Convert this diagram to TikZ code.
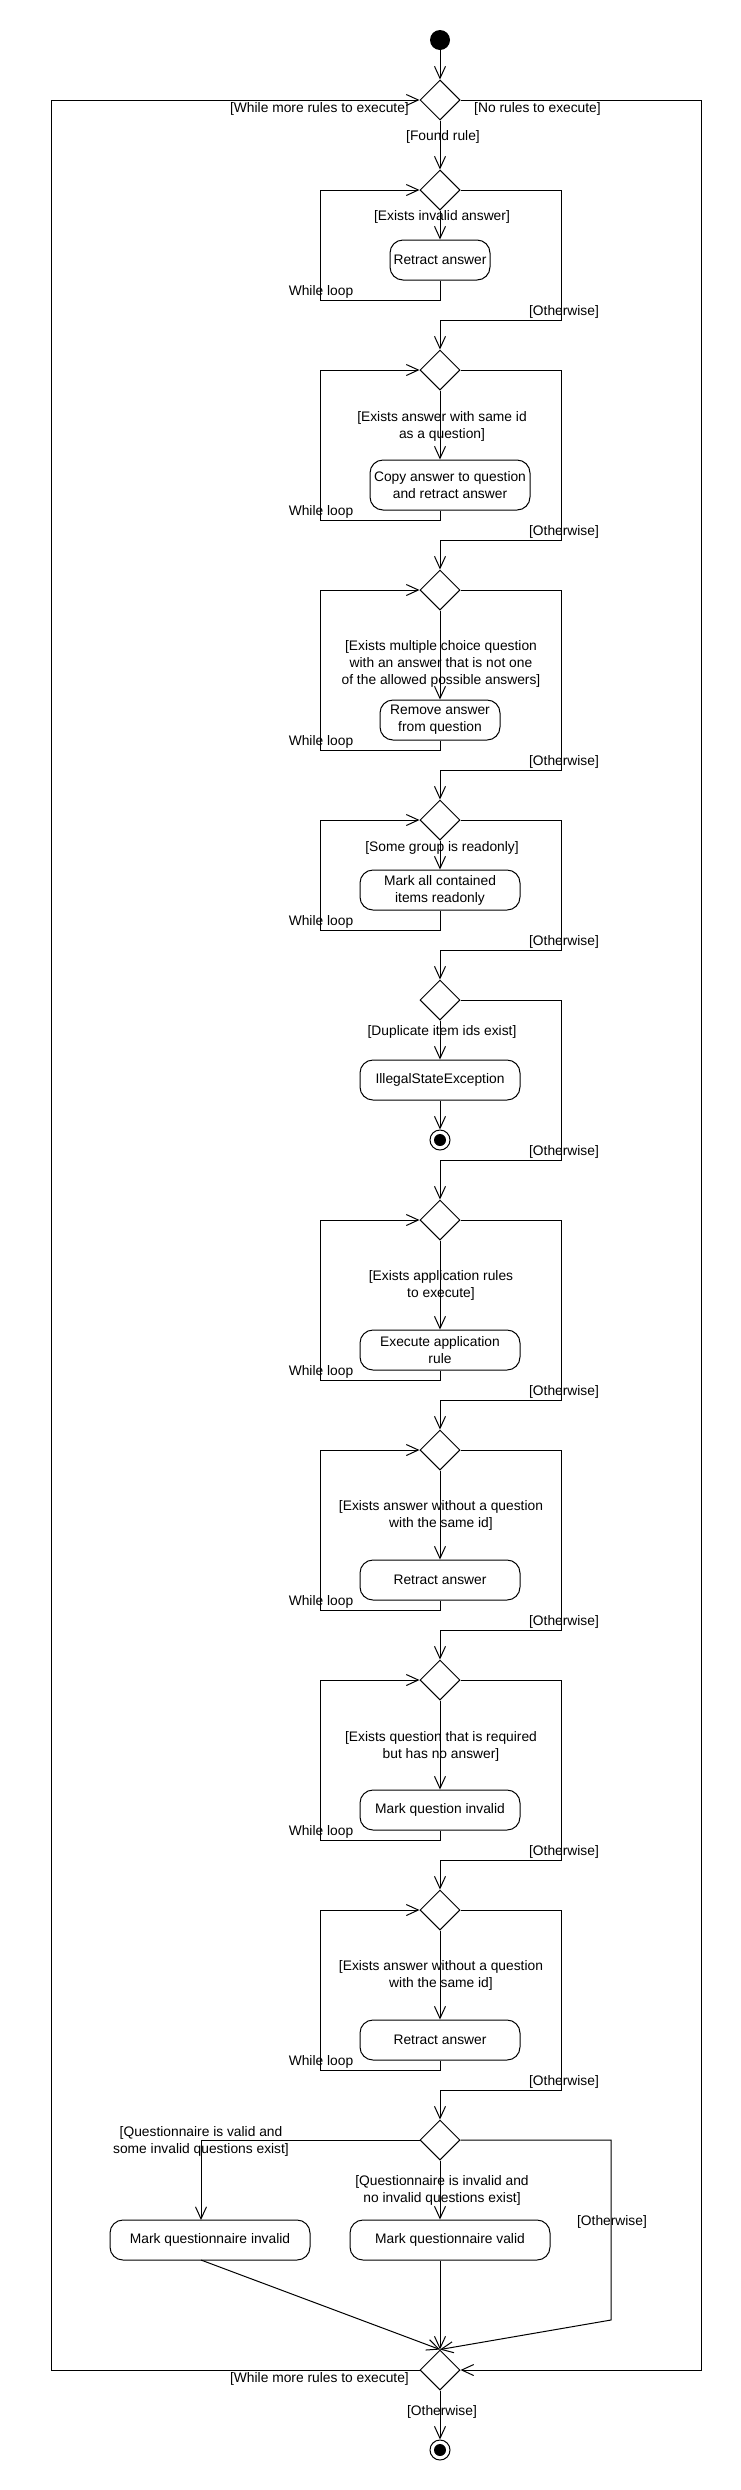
\documentclass[tikz,border=0pt]{standalone}
\usepackage{fontspec}
\setmainfont{Liberation Sans}
\usetikzlibrary{shapes.geometric,arrows.meta}
\begin{document}
\begin{tikzpicture}[x=1pt,y=-1pt,
  every node/.style={font=\fontsize{13.8}{17}\selectfont},
  dec/.style={draw,diamond,minimum width=40pt,minimum height=40pt,inner sep=0pt,line width=1pt},
  act/.style={draw,rounded corners=13pt,minimum height=40pt,inner sep=0pt,align=center,line width=1pt},
  lbl/.style={align=center,inner sep=0pt},
  flow/.style={line width=1pt,-{Straight Barb[length=12pt,width=11pt]}},
  plainline/.style={line width=1pt},
  startnode/.style={circle,fill=black,minimum size=20pt,inner sep=0pt},
  endnode/.style={circle,draw,line width=1pt,minimum size=20pt,inner sep=0pt,
    path picture={\fill[black] (path picture bounding box.center) circle (6pt);}},
]
\path[fill=white] (0,0) rectangle (740,2490);

% start and outer decision
\node[startnode] (start) at (440,40) {};
\node[dec] (d0) at (440,100) {};
\draw[flow] (start) -- (d0);
\node[lbl,anchor=east] (lw0) at (409,109) {[While more rules to execute]};
\node[lbl,anchor=west] (lnr) at (474,109) {[No rules to execute]};
\node[lbl] (lfr) at (443,137) {[Found rule]};

% section 1
\node[dec] (d1) at (440,190) {};
\draw[flow] (d0) -- (d1);
\node[lbl] (l1) at (442,217) {[Exists invalid answer]};
\node[act,minimum width=100pt] (a1) at (440,260) {Retract answer};
\draw[flow] (d1) -- (a1);
\coordinate (lb1) at (320,300);
\draw[flow] (a1.south) |- (lb1) |- (d1.west);
\node[lbl] (wl1) at (321,292) {While loop};
\coordinate (rb1) at (561,320);
\node[lbl] (o1) at (564,312) {[Otherwise]};
\node[dec] (d2) at (440,370) {};
\draw[flow] (d1.east) -| (rb1) -| (d2.north);

% section 2
\node[lbl] (l2) at (442,426) {[Exists answer with same id\\as a question]};
\node[act,minimum width=160pt,minimum height=50pt] (a2) at (450,485) {Copy answer to question\\and retract answer};
\draw[flow] (d2.south) -- (d2.south |- a2.north);
\coordinate (lb2) at (320,520);
\draw[flow] (d2.south |- a2.south) |- (lb2) |- (d2.west);
\node[lbl] (wl2) at (321,512) {While loop};
\coordinate (rb2) at (561,540);
\node[lbl] (o2) at (564,532) {[Otherwise]};
\node[dec] (d3) at (440,590) {};
\draw[flow] (d2.east) -| (rb2) -| (d3.north);

% section 3
\node[lbl] (l3) at (441,664.3) {[Exists multiple choice question\\with an answer that is not one\\of the allowed possible answers]};
\node[act,minimum width=120pt] (a3) at (440,720) {Remove answer\\from question};
\draw[flow] (d3) -- (a3);
\coordinate (lb3) at (320,750);
\draw[flow] (a3.south) |- (lb3) |- (d3.west);
\node[lbl] (wl3) at (321,742) {While loop};
\coordinate (rb3) at (561,770);
\node[lbl] (o3) at (564,762) {[Otherwise]};
\node[dec] (d4) at (440,820) {};
\draw[flow] (d3.east) -| (rb3) -| (d4.north);

% section 4
\node[lbl] (l4) at (442,847.7) {[Some group is readonly]};
\node[act,minimum width=160pt] (a4) at (440,890) {Mark all contained\\items readonly};
\draw[flow] (d4) -- (a4);
\coordinate (lb4) at (320,930);
\draw[flow] (a4.south) |- (lb4) |- (d4.west);
\node[lbl] (wl4) at (321,922) {While loop};
\coordinate (rb4) at (561,950);
\node[lbl] (o4) at (564,942) {[Otherwise]};
\node[dec] (d5) at (440,1000) {};
\draw[flow] (d4.east) -| (rb4) -| (d5.north);

% section 5
\node[lbl] (l5) at (442,1032.3) {[Duplicate item ids exist]};
\node[act,minimum width=160pt] (a5) at (440,1080) {IllegalStateException};
\draw[flow] (d5) -- (a5);
\node[endnode] (f1) at (440,1140) {};
\draw[flow] (a5) -- (f1);
\coordinate (rb5) at (561,1160);
\node[lbl] (o5) at (564,1152) {[Otherwise]};
\node[dec] (d6) at (440,1220) {};
\draw[flow] (d5.east) -| (rb5) -| (d6.north);

% section 6
\node[lbl] (l6) at (441,1285.8) {[Exists application rules\\to execute]};
\node[act,minimum width=160pt] (a6) at (440,1350) {Execute application\\rule};
\draw[flow] (d6) -- (a6);
\coordinate (lb6) at (320,1380);
\draw[flow] (a6.south) |- (lb6) |- (d6.west);
\node[lbl] (wl6) at (321,1372) {While loop};
\coordinate (rb6) at (561,1400);
\node[lbl] (o6) at (564,1392) {[Otherwise]};
\node[dec] (d7) at (440,1450) {};
\draw[flow] (d6.east) -| (rb6) -| (d7.north);

% section 7
\node[lbl] (l7) at (441,1515.8) {[Exists answer without a question\\with the same id]};
\node[act,minimum width=160pt] (a7) at (440,1580) {Retract answer};
\draw[flow] (d7) -- (a7);
\coordinate (lb7) at (320,1610);
\draw[flow] (a7.south) |- (lb7) |- (d7.west);
\node[lbl] (wl7) at (321,1602) {While loop};
\coordinate (rb7) at (561,1630);
\node[lbl] (o7) at (564,1622) {[Otherwise]};
\node[dec] (d8) at (440,1680) {};
\draw[flow] (d7.east) -| (rb7) -| (d8.north);

% section 8
\node[lbl] (l8) at (441,1746) {[Exists question that is required\\but has no answer]};
\node[act,minimum width=160pt] (a8) at (440,1810) {Mark question invalid};
\draw[flow] (d8) -- (a8);
\coordinate (lb8) at (320,1840);
\draw[flow] (a8.south) |- (lb8) |- (d8.west);
\node[lbl] (wl8) at (321,1832) {While loop};
\coordinate (rb8) at (561,1860);
\node[lbl] (o8) at (564,1852) {[Otherwise]};
\node[dec] (d9) at (440,1910) {};
\draw[flow] (d8.east) -| (rb8) -| (d9.north);

% section 9
\node[lbl] (l9) at (441,1975.8) {[Exists answer without a question\\with the same id]};
\node[act,minimum width=160pt] (a9) at (440,2040) {Retract answer};
\draw[flow] (d9) -- (a9);
\coordinate (lb9) at (320,2070);
\draw[flow] (a9.south) |- (lb9) |- (d9.west);
\node[lbl] (wl9) at (321,2062) {While loop};
\coordinate (rb9) at (561,2090);
\node[lbl] (o9) at (564,2082) {[Otherwise]};
\node[dec] (d10) at (440,2140) {};
\draw[flow] (d9.east) -| (rb9) -| (d10.north);

% section 10
\node[act,minimum width=200pt] (a10a) at (210,2240) {Mark questionnaire invalid};
\node[act,minimum width=200pt] (a10b) at (450,2240) {Mark questionnaire valid};
\coordinate (a10aIn) at (201,2220);
\coordinate (a10aOut) at (201,2260);
\node[lbl] (l10a) at (201,2141) {[Questionnaire is valid and\\some invalid questions exist]};
\node[lbl] (l10b) at (442,2190.7) {[Questionnaire is invalid and\\no invalid questions exist]};
\node[lbl] (o10) at (612,2222) {[Otherwise]};
\coordinate (rc10) at (611,2320);
\draw[flow] (d10.west) -| (a10aIn);
\draw[flow] (d10.south) -- (d10.south |- a10b.north);

% merge
\node[dec] (m) at (440,2370) {};
\draw[flow] (a10aOut) -- (m.north);
\draw[flow] (d10.south |- a10b.south) -- (m.north);
\draw[flow] (d10.east) -| (rc10) -- (m.north);

% outer loop
\coordinate (ol) at (51,100);
\coordinate (or) at (701,100);
\draw[flow] (m.west) -| (ol) -- (d0.west);
\draw[flow] (d0.east) -- (or) |- (m.east);
\node[lbl,anchor=east] (lw1) at (409,2379) {[While more rules to execute]};
\node[lbl] (o11) at (442,2412) {[Otherwise]};
\node[endnode] (f2) at (440,2450) {};
\draw[flow] (m) -- (f2);
\end{tikzpicture}
\end{document}
